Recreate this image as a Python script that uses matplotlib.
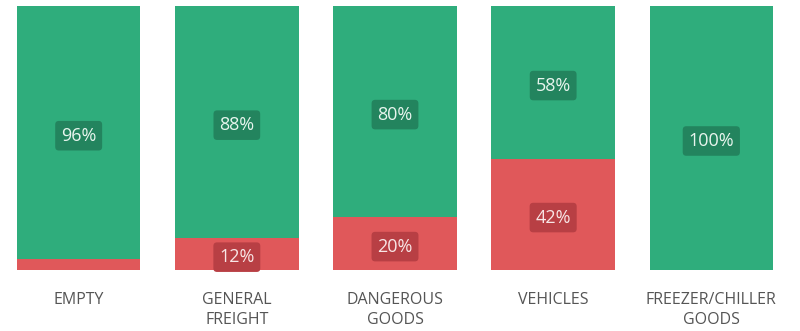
import matplotlib
matplotlib.use("Agg")
import matplotlib.pyplot as plt
from matplotlib.transforms import offset_copy

categories = ["EMPTY", "GENERAL\nFREIGHT", "DANGEROUS\nGOODS", "VEHICLES", "FREEZER/CHILLER\nGOODS"]
loaded_pct = [96, 88, 80, 58, 100]   # green (upper) segment
other_pct = [4, 12, 20, 42, 0]       # red (lower) segment

green = "#2fad7c"
red = "#e0585a"
green_box = "#23845e"
red_box = "#b83f44"

plt.rcParams["font.family"] = ["Open Sans", "DejaVu Sans"]

fig = plt.figure(figsize=(8, 3.31), dpi=100)
ax = fig.add_axes([17 / 800, 61 / 331, 756 / 800, 264 / 331])

x = range(len(categories))
width = 0.78
ax.bar(x, other_pct, width=width, color=red, linewidth=0)
ax.bar(x, loaded_pct, width=width, bottom=other_pct, color=green, linewidth=0)

# value labels sit slightly below the segment midpoint
label_tr = offset_copy(ax.transData, fig=fig, x=0, y=-3, units="dots")
min_label = 8
box = dict(boxstyle="round,pad=0.32,rounding_size=0.2", ec="none")
for i, (g, r) in enumerate(zip(loaded_pct, other_pct)):
    if g >= min_label:
        ax.text(i, r + g / 2, f"{g}%", ha="center", va="center", fontsize=13,
                color="#e8f5ee", transform=label_tr, bbox={**box, "fc": green_box})
    if r >= min_label:
        ax.text(i, r / 2, f"{r}%", ha="center", va="center", fontsize=13,
                color="#f8e6e6", transform=label_tr, bbox={**box, "fc": red_box})

ax.set_xlim(-0.39, len(categories) - 1 + 0.39)
ax.set_ylim(0, 100)
ax.set_xticks(list(x))
ax.set_xticklabels(categories, fontsize=11.5, color="#555555", linespacing=1.3)
ax.tick_params(axis="x", length=0, pad=16)
ax.set_yticks([])
for s in ax.spines.values():
    s.set_visible(False)

fig.savefig("out.png", dpi=100)
